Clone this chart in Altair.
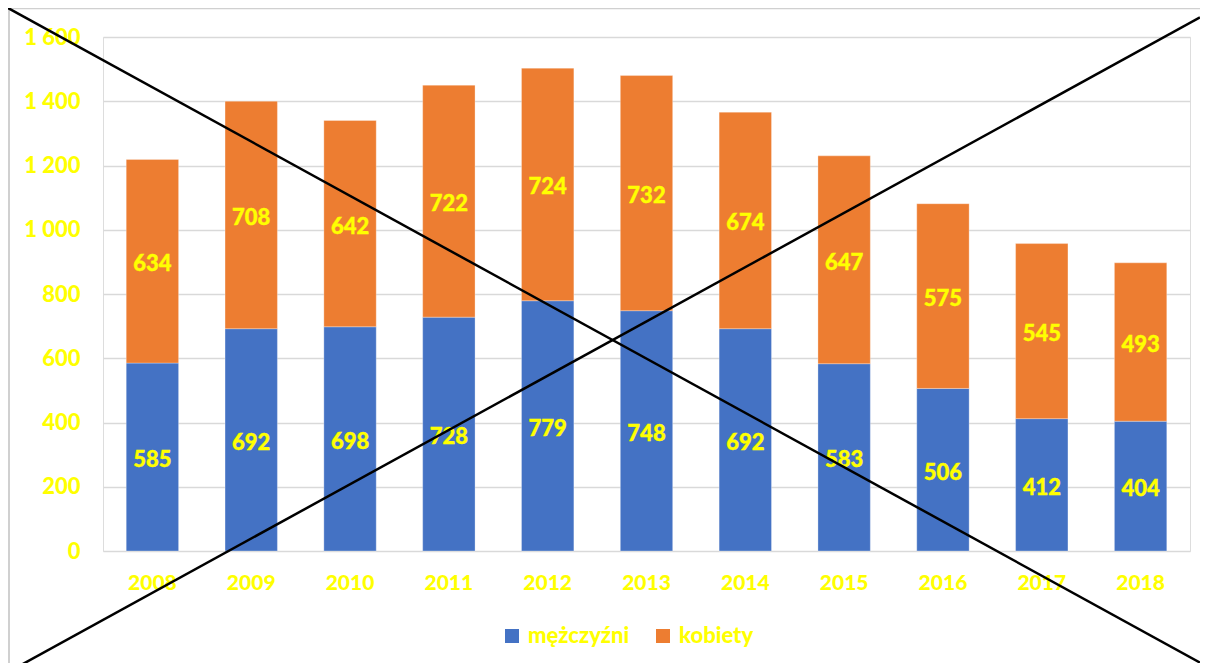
import altair as alt
import pandas as pd

years = ["2008", "2009", "2010", "2011", "2012", "2013", "2014", "2015", "2016", "2017", "2018"]
men = [585, 692, 698, 728, 779, 748, 692, 583, 506, 412, 404]
women = [634, 708, 642, 722, 724, 732, 674, 647, 575, 545, 493]
series = ["mężczyźni", "kobiety"]
colors = ["#4472C4", "#ED7D31"]

rows = []
for i, y in enumerate(years):
    rows.append({"rok": y, "grupa": series[0], "liczba": men[i], "kolejnosc": 0})
    rows.append({"rok": y, "grupa": series[1], "liczba": women[i], "kolejnosc": 1})
df = pd.DataFrame(rows)

FONT = "Lato"
YEL = "#FFFF00"
W, H = 1087, 514

base = alt.Chart(df)

bars = base.mark_bar(stroke="white", strokeWidth=0.5, strokeOpacity=0.6).encode(
    x=alt.X("rok:N", sort=years, title=None,
            scale=alt.Scale(paddingInner=0.47, paddingOuter=0.235),
            axis=alt.Axis(labelColor=YEL, labelFont=FONT, labelFontSize=21, labelFontWeight=900,
                          labelAngle=0, ticks=False, domain=False, labelPadding=21, grid=False)),
    y=alt.Y("liczba:Q", stack="zero", title=None,
            scale=alt.Scale(domain=[0, 1600], nice=False),
            axis=alt.Axis(values=list(range(0, 1601, 200)),
                          labelExpr="replace(format(datum.value, ',d'), ',', ' ')",
                          labelColor=YEL, labelFont=FONT, labelFontSize=22, labelFontWeight=900,
                          ticks=False, domain=False, labelPadding=23,
                          gridColor="#D9D9D9", gridWidth=1.5)),
    color=alt.Color("grupa:N", sort=series, title=None,
                    scale=alt.Scale(domain=series, range=colors),
                    legend=alt.Legend(orient="none", legendX=398, legendY=588, direction="horizontal",
                                      symbolType="square", symbolSize=196, symbolStrokeWidth=0,
                                      labelColor=YEL, labelFont=FONT, labelFontSize=22,
                                      labelFontWeight=900, labelOffset=5, columnPadding=22,
                                      labelLimit=300)),
    order=alt.Order("kolejnosc:Q"),
)

labels = base.transform_stack(
    stack="liczba", groupby=["rok"], as_=["y0", "y1"], sort=[alt.SortField("kolejnosc")]
).transform_calculate(
    mid="(datum.y0 + datum.y1) / 2"
).mark_text(color=YEL, font=FONT, fontSize=22, fontWeight=900, baseline="middle", dy=3,
            stroke=YEL, strokeWidth=0.4).encode(
    x=alt.X("rok:N", sort=years),
    y=alt.Y("mid:Q"),
    text=alt.Text("liczba:Q"),
)

one = alt.Chart(pd.DataFrame({"a": [0]}))
line_a = one.mark_rule(color="black", strokeWidth=2.5).encode(
    x=alt.value(-95), y=alt.value(-29), x2=alt.value(1097), y2=alt.value(625.6))
line_b = one.mark_rule(color="black", strokeWidth=2.5).encode(
    x=alt.value(-82), y=alt.value(628), x2=alt.value(1097), y2=alt.value(-19.6))
border_l = one.mark_rule(color="#D0D0D0", strokeWidth=2).encode(
    x=alt.value(-94), y=alt.value(-29), y2=alt.value(626))
border_t = one.mark_rule(color="#D0D0D0", strokeWidth=1.5).encode(
    x=alt.value(-95), x2=alt.value(1097), y=alt.value(-28.5))

chart = alt.layer(bars, labels, border_l, border_t, line_a, line_b).properties(
    width=W, height=H,
    autosize=alt.AutoSizeParams(type="none"),
    padding={"left": 95, "top": 29, "right": 10, "bottom": 112},
).configure_view(stroke=None).configure(background="white")

chart.save("out.html", embed_options={"renderer": "svg", "actions": False})
